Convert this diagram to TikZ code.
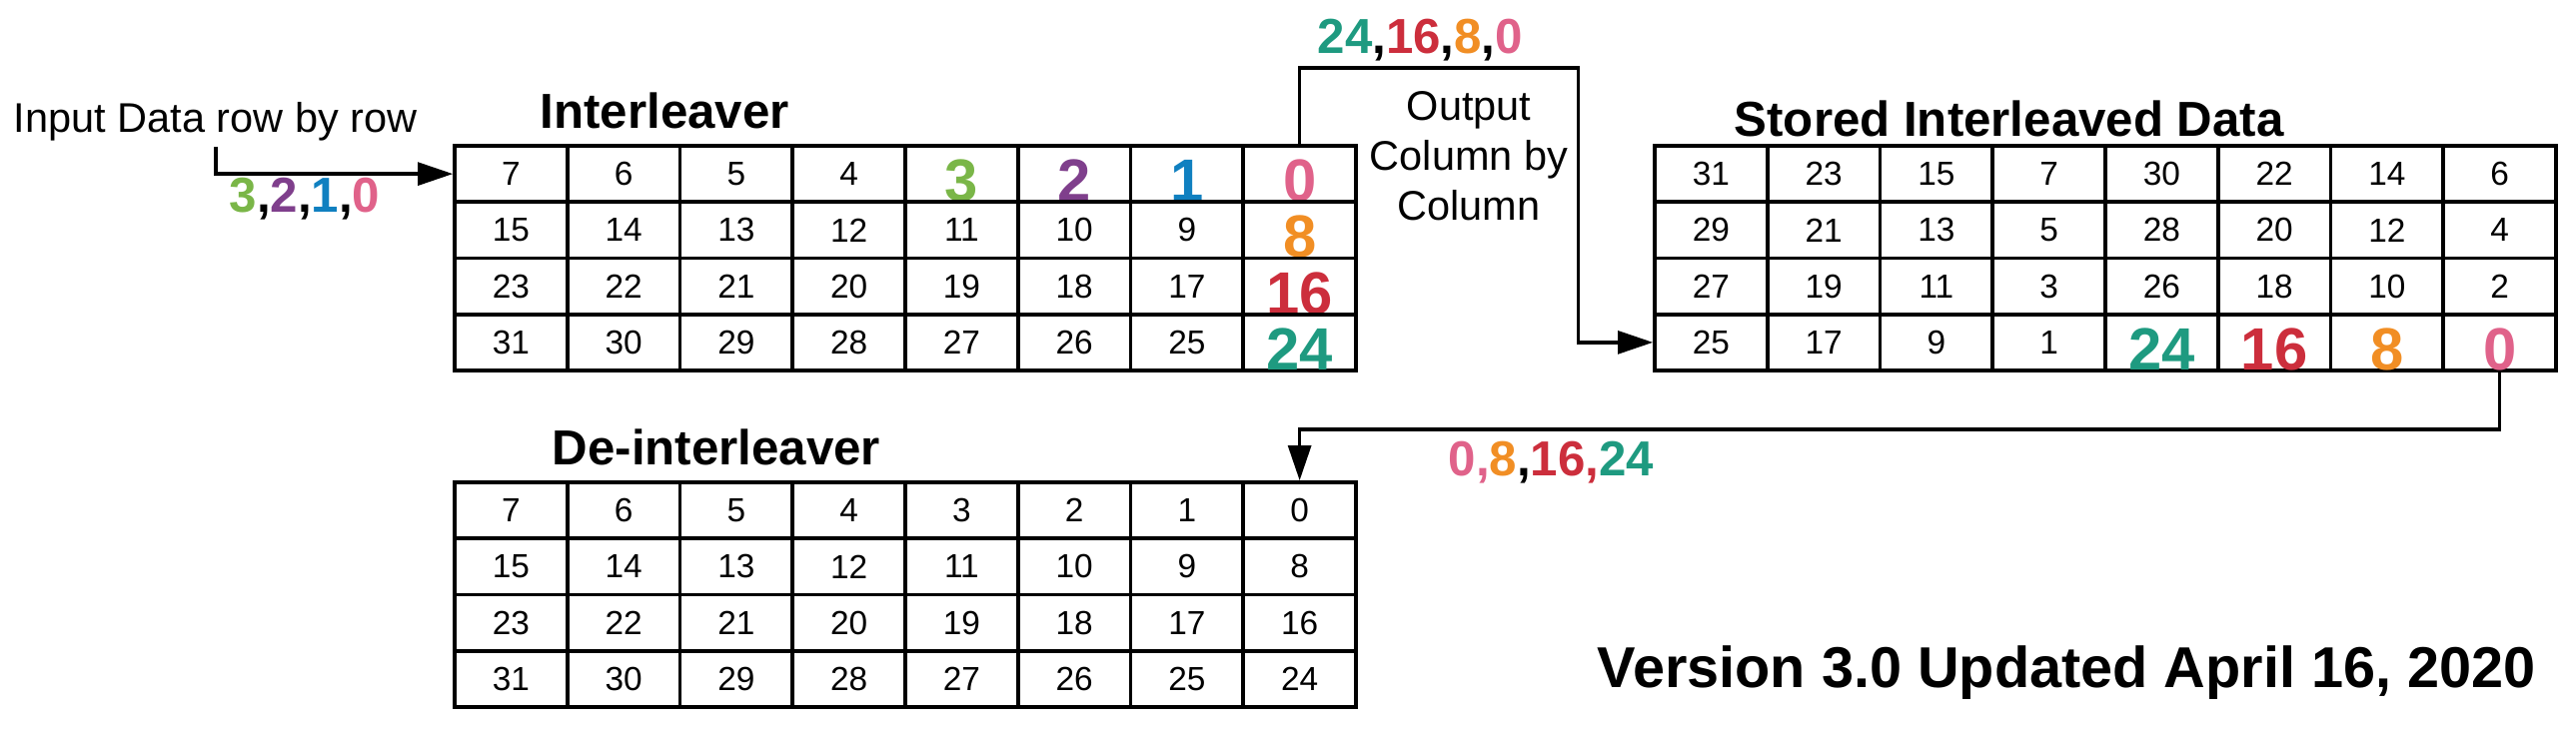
\documentclass[tikz,border=0pt]{standalone}
\usepackage{fontspec}
\setmainfont{Liberation Sans}
\usetikzlibrary{arrows.meta, positioning}

\definecolor{c0}{HTML}{E0628A}
\definecolor{c1}{HTML}{1080C0}
\definecolor{c2}{HTML}{7F3F8C}
\definecolor{c3}{HTML}{7AB648}
\definecolor{c8}{HTML}{F18E24}
\definecolor{c16}{HTML}{CC2E3C}
\definecolor{c24}{HTML}{1E9A80}

\tikzset{
    cell/.style={draw, line width=1pt, minimum width=1.1275cm, minimum height=0.5625cm,
        inner sep=0pt, font=\fontsize{9.5}{11}\selectfont},
    bignum/.style={anchor=base, inner sep=0pt, yshift=0.7pt, font=\bfseries\fontsize{17}{20}\selectfont},
    seq/.style={anchor=base west, inner sep=0pt, font=\bfseries\fontsize{14}{17}\selectfont},
    heading/.style={anchor=base west, inner sep=0pt, font=\bfseries\fontsize{14}{17}\selectfont},
    note/.style={inner sep=0pt, font=\fontsize{11.8}{14.2}\selectfont},
    flow/.style={line width=1pt, -{Triangle[length=10pt,width=6.5pt]}}
}

\begin{document}
\begin{tikzpicture}[x=0.01cm, y=-0.01cm]
    \useasboundingbox (0,0) rectangle (2578,731);

    % Interleaver table
    \foreach \r in {0,...,3}
      \foreach \c in {0,...,7} {
        \pgfmathtruncatemacro\val{8*\r+7-\c}
        \pgfmathtruncatemacro\hot{(\r==0)*(\c>3)+(\c==7)}
        \ifnum\hot>0
          \node[cell] (il-\r-\c) at ({455+112.75*(\c+0.5)}, {146+56.25*(\r+0.5)}) {};
          \node[bignum, text=c\val] (iln-\r-\c) at (il-\r-\c.south) {\val};
        \else
          \node[cell] (il-\r-\c) at ({455+112.75*(\c+0.5)}, {146+56.25*(\r+0.5)}) {\val};
        \fi
      }

    % Stored interleaved data table
    \foreach \r in {0,...,3}
      \foreach \c in {0,...,7} {
        \pgfmathtruncatemacro\val{31-8*mod(\c,4)-2*\r-(\c>3)}
        \pgfmathtruncatemacro\hot{(\r==3)*(\c>3)}
        \ifnum\hot>0
          \node[cell] (st-\r-\c) at ({1656+112.75*(\c+0.5)}, {146+56.25*(\r+0.5)}) {};
          \node[bignum, text=c\val] (stn-\r-\c) at (st-\r-\c.south) {\val};
        \else
          \node[cell] (st-\r-\c) at ({1656+112.75*(\c+0.5)}, {146+56.25*(\r+0.5)}) {\val};
        \fi
      }

    % De-interleaver table
    \foreach \r in {0,...,3}
      \foreach \c in {0,...,7} {
        \pgfmathtruncatemacro\val{8*\r+7-\c}
        \node[cell] (de-\r-\c) at ({455+112.75*(\c+0.5)}, {483+56.25*(\r+0.5)}) {\val};
      }

    % Titles and notes
    \node[note, anchor=base west] (input) at (13,133) {Input Data row by row};
    \node[heading] (iltitle) at (540,129) {Interleaver};
    \node[heading] (sttitle) at (1735,137) {Stored Interleaved Data};
    \node[heading] (detitle) at (552,466) {De-interleaver};
    \node[note, align=center] (outnote) at (1470,156) {Output\\Column by\\Column};
    \node[heading, font=\bfseries\fontsize{16.4}{20}\selectfont] (version) at (1598,689)
        {Version 3.0 Updated April 16, 2020};

    % Data sequences
    \node[seq] (inseq) at (229,213)
        {\textcolor{c3}{3},\textcolor{c2}{2},\textcolor{c1}{1},\textcolor{c0}{0}};
    \node[seq] (outseq) at (1318,54)
        {\textcolor{c24}{24},\textcolor{c16}{16},\textcolor{c8}{8},\textcolor{c0}{0}};
    \node[seq] (backseq) at (1449,477)
        {\textcolor{c0}{0,}\textcolor{c8}{8},\textcolor{c16}{16,}\textcolor{c24}{24}};

    % Arrows
    \coordinate (start) at (216,147);
    \draw[flow] (start) |- (il-0-0.west);
    \draw[flow] (il-0-7.north) -- ++(0,-76) -- ++(279,0) |- (st-3-0.west);
    \draw[flow] (st-3-7.south) -- ++(0,57) -| (de-0-7.north);

\end{tikzpicture}
\end{document}
